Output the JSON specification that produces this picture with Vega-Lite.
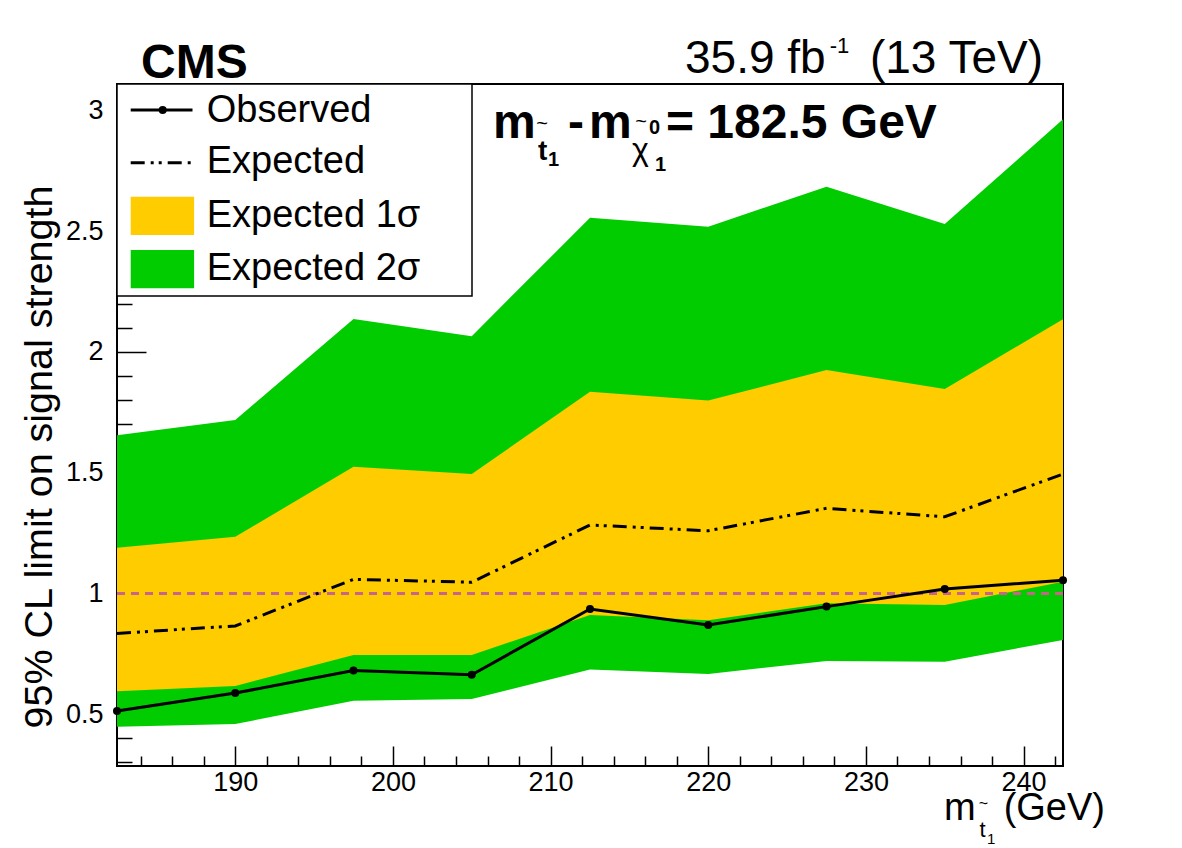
{
  "$schema": "https://vega.github.io/schema/vega-lite/v6.json",
  "width": 946,
  "height": 682,
  "autosize": {"type": "none"},
  "padding": {"left": 117, "top": 84, "right": 119, "bottom": 82},
  "background": "white",
  "resolve": {"axis": {"x": "independent", "y": "independent"}},
  "config": {
    "font": "Liberation Sans",
    "view": {"stroke": "black", "strokeWidth": 2},
    "axis": {
      "labelFont": "Liberation Sans",
      "labelFontSize": 27,
      "labelColor": "black",
      "tickColor": "black",
      "tickWidth": 1.5,
      "domain": false,
      "grid": false,
      "labelOverlap": false,
      "labelFlush": false
    }
  },
  "data": {
    "values": [
      {"m": 182.5, "obs": 0.513, "exp": 0.834, "s1lo": 0.595, "s1hi": 1.189, "s2lo": 0.448, "s2hi": 1.655},
      {"m": 190.0, "obs": 0.587, "exp": 0.865, "s1lo": 0.616, "s1hi": 1.234, "s2lo": 0.459, "s2hi": 1.718},
      {"m": 197.5, "obs": 0.680, "exp": 1.058, "s1lo": 0.745, "s1hi": 1.524, "s2lo": 0.555, "s2hi": 2.136},
      {"m": 205.0, "obs": 0.663, "exp": 1.046, "s1lo": 0.745, "s1hi": 1.494, "s2lo": 0.562, "s2hi": 2.065},
      {"m": 212.5, "obs": 0.935, "exp": 1.283, "s1lo": 0.910, "s1hi": 1.835, "s2lo": 0.685, "s2hi": 2.555},
      {"m": 220.0, "obs": 0.869, "exp": 1.259, "s1lo": 0.889, "s1hi": 1.798, "s2lo": 0.666, "s2hi": 2.518},
      {"m": 227.5, "obs": 0.945, "exp": 1.352, "s1lo": 0.959, "s1hi": 1.925, "s2lo": 0.720, "s2hi": 2.684},
      {"m": 235.0, "obs": 1.018, "exp": 1.317, "s1lo": 0.952, "s1hi": 1.846, "s2lo": 0.717, "s2hi": 2.529},
      {"m": 242.5, "obs": 1.054, "exp": 1.494, "s1lo": 1.048, "s1hi": 2.135, "s2lo": 0.807, "s2hi": 2.963}
    ]
  },
  "layer": [
    {
      "mark": {"type": "area", "color": "#00cc00", "opacity": 1},
      "encoding": {
        "x": {
          "field": "m", "type": "quantitative",
          "scale": {"domain": [182.5, 242.5], "nice": false, "zero": false},
          "axis": {
            "orient": "bottom",
            "title": null,
            "values": [190, 200, 210, 220, 230, 240],
            "format": "d",
            "tickSize": -20,
            "labelPadding": 23
          }
        },
        "y": {
          "field": "s2lo", "type": "quantitative",
          "scale": {"domain": [0.285, 3.109], "nice": false, "zero": false},
          "axis": {
            "orient": "left",
            "title": "95% CL limit on signal strength",
            "titleFont": "Liberation Sans",
            "titleFontSize": 39.5,
            "titleFontWeight": "normal",
            "titleColor": "black",
            "titleAngle": -90,
            "titleAlign": "right",
            "titleBaseline": "alphabetic",
            "titleX": -66,
            "titleY": 101,
            "values": [0.5, 1, 1.5, 2, 2.5, 3],
            "format": "~g",
            "tickSize": -29,
            "labelPadding": 43
          }
        },
        "y2": {"field": "s2hi"}
      }
    },
    {
      "mark": {"type": "area", "color": "#ffcc00", "opacity": 1},
      "encoding": {
        "x": {
          "field": "m", "type": "quantitative",
          "axis": {
            "orient": "bottom",
            "title": null,
            "labels": false,
            "values": [184,186,188,192,194,196,198,202,204,206,208,212,214,216,218,222,224,226,228,232,234,236,238,242],
            "tickSize": -10
          }
        },
        "y": {
          "field": "s1lo", "type": "quantitative",
          "axis": {
            "orient": "left",
            "title": null,
            "labels": false,
            "values": [0.3,0.4,0.6,0.7,0.8,0.9,1.1,1.2,1.3,1.4,1.6,1.7,1.8,1.9,2.1,2.2,2.3,2.4,2.6,2.7,2.8,2.9,3.1],
            "tickSize": -15
          }
        },
        "y2": {"field": "s1hi"}
      }
    },
    {
      "mark": {"type": "rule", "color": "#c8648c", "strokeWidth": 2.5, "strokeDash": [8, 6]},
      "encoding": {"y": {"datum": 1, "axis": null}}
    },
    {
      "mark": {"type": "line", "color": "black", "strokeWidth": 3, "strokeDash": [14, 6, 3, 5, 3, 6]},
      "encoding": {
        "x": {"field": "m", "type": "quantitative", "axis": null},
        "y": {"field": "exp", "type": "quantitative", "axis": null}
      }
    },
    {
      "mark": {"type": "line", "color": "black", "strokeWidth": 3, "point": {"filled": true, "size": 64, "opacity": 1, "color": "black"}},
      "encoding": {
        "x": {"field": "m", "type": "quantitative", "axis": null},
        "y": {"field": "obs", "type": "quantitative", "axis": null}
      }
    },
    {
      "data": {"values": [{}]},
      "mark": {"type": "rect", "fill": "white", "stroke": "black", "strokeWidth": 1.5},
      "encoding": {
        "x": {"datum": 182.5, "axis": null}, "x2": {"datum": 205.016},
        "y": {"datum": 3.109, "axis": null}, "y2": {"datum": 2.2312}
      }
    },
    {
      "data": {"values": [{}]},
      "mark": {"type": "rule", "color": "black", "strokeWidth": 3},
      "encoding": {
        "x": {"datum": 183.369, "axis": null}, "x2": {"datum": 187.289},
        "y": {"datum": 3.0014, "axis": null}
      }
    },
    {
      "data": {"values": [{}]},
      "mark": {"type": "point", "filled": true, "color": "black", "size": 64, "opacity": 1},
      "encoding": {
        "x": {"datum": 185.398, "axis": null},
        "y": {"datum": 3.0014, "axis": null}
      }
    },
    {
      "data": {"values": [{}]},
      "mark": {"type": "rule", "color": "black", "strokeWidth": 3, "strokeDash": [14, 6, 3, 5, 3, 6]},
      "encoding": {
        "x": {"datum": 183.369, "axis": null}, "x2": {"datum": 187.289},
        "y": {"datum": 2.7831, "axis": null}
      }
    },
    {
      "data": {"values": [{}]},
      "mark": {"type": "rect", "fill": "#ffcc00"},
      "encoding": {
        "x": {"datum": 183.369, "axis": null}, "x2": {"datum": 187.39},
        "y": {"datum": 2.6423, "axis": null}, "y2": {"datum": 2.4838}
      }
    },
    {
      "data": {"values": [{}]},
      "mark": {"type": "rect", "fill": "#00cc00"},
      "encoding": {
        "x": {"datum": 183.369, "axis": null}, "x2": {"datum": 187.39},
        "y": {"datum": 2.4216, "axis": null}, "y2": {"datum": 2.2631}
      }
    },
    {
      "data": {"values": [{}]},
      "mark": {"type": "text", "text": "Observed", "font": "Liberation Sans", "fontSize": 38, "align": "left", "baseline": "alphabetic", "color": "black"},
      "encoding": {"x": {"datum": 188.189, "axis": null}, "y": {"datum": 2.9529, "axis": null}}
    },
    {
      "data": {"values": [{}]},
      "mark": {"type": "text", "text": "Expected", "font": "Liberation Sans", "fontSize": 38, "align": "left", "baseline": "alphabetic", "color": "black"},
      "encoding": {"x": {"datum": 188.189, "axis": null}, "y": {"datum": 2.7392, "axis": null}}
    },
    {
      "data": {"values": [{}]},
      "mark": {"type": "text", "text": "Expected 1σ", "font": "Liberation Sans", "fontSize": 38, "align": "left", "baseline": "alphabetic", "color": "black"},
      "encoding": {"x": {"datum": 188.189, "axis": null}, "y": {"datum": 2.5181, "axis": null}}
    },
    {
      "data": {"values": [{}]},
      "mark": {"type": "text", "text": "Expected 2σ", "font": "Liberation Sans", "fontSize": 38, "align": "left", "baseline": "alphabetic", "color": "black"},
      "encoding": {"x": {"datum": 188.189, "axis": null}, "y": {"datum": 2.2974, "axis": null}}
    },
    {
      "data": {"values": [{}]},
      "mark": {"type": "text", "text": "CMS", "font": "Liberation Sans", "fontSize": 48, "fontWeight": "bold", "align": "left", "baseline": "alphabetic", "color": "black"},
      "encoding": {"x": {"datum": 184.022, "axis": null}, "y": {"datum": 3.134, "axis": null}}
    },
    {
      "data": {"values": [{}]},
      "mark": {"type": "text", "text": "35.9 fb", "font": "Liberation Sans", "fontSize": 46, "align": "left", "baseline": "alphabetic", "color": "black"},
      "encoding": {"x": {"datum": 218.525, "axis": null}, "y": {"datum": 3.1546, "axis": null}}
    },
    {
      "data": {"values": [{}]},
      "mark": {"type": "text", "text": "-1", "font": "Liberation Sans", "fontSize": 22, "align": "left", "baseline": "alphabetic", "color": "black"},
      "encoding": {"x": {"datum": 227.7, "axis": null}, "y": {"datum": 3.2374, "axis": null}}
    },
    {
      "data": {"values": [{}]},
      "mark": {"type": "text", "text": "(13 TeV)", "font": "Liberation Sans", "fontSize": 46, "align": "right", "baseline": "alphabetic", "color": "black"},
      "encoding": {"x": {"datum": 241.231, "axis": null}, "y": {"datum": 3.1546, "axis": null}}
    },
    {
      "data": {"values": [{}]},
      "mark": {"type": "text", "text": "m", "font": "Liberation Sans", "fontSize": 48, "fontWeight": "bold", "align": "left", "baseline": "alphabetic", "color": "black"},
      "encoding": {"x": {"datum": 206.348, "axis": null}, "y": {"datum": 2.8854, "axis": null}}
    },
    {
      "data": {"values": [{}]},
      "mark": {"type": "text", "text": "~", "font": "Liberation Sans", "fontSize": 20, "align": "center", "baseline": "alphabetic", "color": "black"},
      "encoding": {"x": {"datum": 209.455, "axis": null}, "y": {"datum": 2.9185, "axis": null}}
    },
    {
      "data": {"values": [{}]},
      "mark": {"type": "text", "text": "t", "font": "Liberation Sans", "fontSize": 28, "fontWeight": "bold", "align": "left", "baseline": "alphabetic", "color": "black"},
      "encoding": {"x": {"datum": 209.202, "axis": null}, "y": {"datum": 2.7943, "axis": null}}
    },
    {
      "data": {"values": [{}]},
      "mark": {"type": "text", "text": "1", "font": "Liberation Sans", "fontSize": 20, "fontWeight": "bold", "align": "left", "baseline": "alphabetic", "color": "black"},
      "encoding": {"x": {"datum": 209.836, "axis": null}, "y": {"datum": 2.7695, "axis": null}}
    },
    {
      "data": {"values": [{}]},
      "mark": {"type": "text", "text": "-", "font": "Liberation Sans", "fontSize": 48, "fontWeight": "bold", "align": "left", "baseline": "alphabetic", "color": "black"},
      "encoding": {"x": {"datum": 211.105, "axis": null}, "y": {"datum": 2.8854, "axis": null}}
    },
    {
      "data": {"values": [{}]},
      "mark": {"type": "text", "text": "m", "font": "Liberation Sans", "fontSize": 48, "fontWeight": "bold", "align": "left", "baseline": "alphabetic", "color": "black"},
      "encoding": {"x": {"datum": 212.437, "axis": null}, "y": {"datum": 2.8854, "axis": null}}
    },
    {
      "data": {"values": [{}]},
      "mark": {"type": "text", "text": "χ", "font": "Liberation Sans", "fontSize": 32, "align": "left", "baseline": "alphabetic", "color": "black"},
      "encoding": {"x": {"datum": 215.16, "axis": null}, "y": {"datum": 2.7943, "axis": null}}
    },
    {
      "data": {"values": [{}]},
      "mark": {"type": "text", "text": "~", "font": "Liberation Sans", "fontSize": 20, "align": "center", "baseline": "alphabetic", "color": "black"},
      "encoding": {"x": {"datum": 215.735, "axis": null}, "y": {"datum": 2.9268, "axis": null}}
    },
    {
      "data": {"values": [{}]},
      "mark": {"type": "text", "text": "0", "font": "Liberation Sans", "fontSize": 20, "fontWeight": "bold", "align": "left", "baseline": "alphabetic", "color": "black"},
      "encoding": {"x": {"datum": 216.242, "axis": null}, "y": {"datum": 2.902, "axis": null}}
    },
    {
      "data": {"values": [{}]},
      "mark": {"type": "text", "text": "1", "font": "Liberation Sans", "fontSize": 20, "fontWeight": "bold", "align": "left", "baseline": "alphabetic", "color": "black"},
      "encoding": {"x": {"datum": 216.623, "axis": null}, "y": {"datum": 2.7488, "axis": null}}
    },
    {
      "data": {"values": [{}]},
      "mark": {"type": "text", "text": "= 182.5 GeV", "font": "Liberation Sans", "fontSize": 48, "fontWeight": "bold", "align": "left", "baseline": "alphabetic", "color": "black"},
      "encoding": {"x": {"datum": 217.32, "axis": null}, "y": {"datum": 2.8854, "axis": null}}
    },
    {
      "data": {"values": [{}]},
      "mark": {"type": "text", "text": "m", "font": "Liberation Sans", "fontSize": 38, "align": "left", "baseline": "alphabetic", "color": "black"},
      "encoding": {"x": {"datum": 234.953, "axis": null}, "y": {"datum": 0.0614, "axis": null}}
    },
    {
      "data": {"values": [{}]},
      "mark": {"type": "text", "text": "~", "font": "Liberation Sans", "fontSize": 16, "align": "center", "baseline": "alphabetic", "color": "black"},
      "encoding": {"x": {"datum": 237.45, "axis": null}, "y": {"datum": 0.108, "axis": null}}
    },
    {
      "data": {"values": [{}]},
      "mark": {"type": "text", "text": "t", "font": "Liberation Sans", "fontSize": 22, "align": "left", "baseline": "alphabetic", "color": "black"},
      "encoding": {"x": {"datum": 237.2, "axis": null}, "y": {"datum": -0.008, "axis": null}}
    },
    {
      "data": {"values": [{}]},
      "mark": {"type": "text", "text": "1", "font": "Liberation Sans", "fontSize": 15, "align": "left", "baseline": "alphabetic", "color": "black"},
      "encoding": {"x": {"datum": 237.68, "axis": null}, "y": {"datum": -0.036, "axis": null}}
    },
    {
      "data": {"values": [{}]},
      "mark": {"type": "text", "text": "(GeV)", "font": "Liberation Sans", "fontSize": 38, "align": "right", "baseline": "alphabetic", "color": "black"},
      "encoding": {"x": {"datum": 245.164, "axis": null}, "y": {"datum": 0.0614, "axis": null}}
    }
  ]
}
